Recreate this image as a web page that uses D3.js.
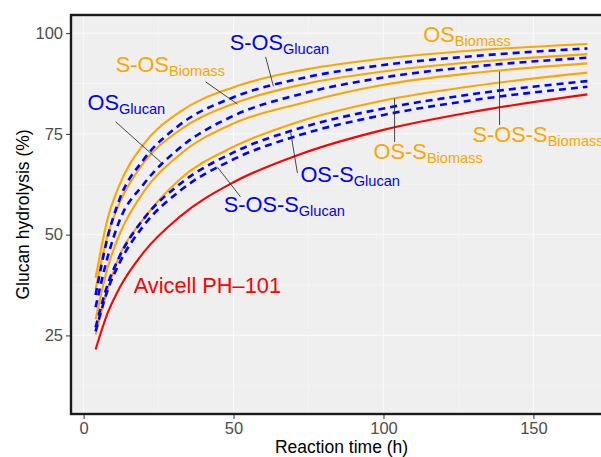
<!DOCTYPE html>
<html>
<head>
<meta charset="utf-8">
<script src="https://cdn.jsdelivr.net/npm/d3@7"></script>
<style>
  body { margin: 0; background: #fff; }
  svg text { font-family: "Liberation Sans", Arial, sans-serif; }
</style>
</head>
<body>
<svg id="chart" width="601" height="457"></svg>
<script>
const times = [4, 8, 12, 20, 32, 50, 72, 100, 130, 168];

// glucan hydrolysis (%) for each curve
const osBiomass   = [39.3, 53.9, 62.4, 72.4, 80.4, 86.6, 90.7, 93.7, 95.7, 97.3];
const sosGlucan   = [35.0, 49.3, 58.8, 68.6, 77.2, 84.1, 88.7, 92.1, 94.3, 96.2];
const sosBiomass  = [36.4, 49.8, 57.9, 67.8, 75.9, 82.5, 87.1, 90.5, 92.8, 94.8];
const osGlucan    = [32.0, 44.4, 53.5, 62.5, 71.5, 79.5, 84.8, 89.0, 91.7, 93.9];
const sossBiomass = [29.0, 41.8, 50.1, 60.6, 69.8, 77.6, 82.5, 87.2, 90.1, 92.5];
const ossBiomass  = [25.2, 36.3, 44.8, 53.9, 63.7, 71.8, 78.1, 83.3, 86.9, 90.2];
const ossGlucan   = [27.0, 37.6, 44.6, 53.9, 62.5, 70.4, 76.4, 81.3, 84.9, 88.1];
const sossGlucan  = [26.0, 36.2, 43.0, 52.2, 60.8, 68.7, 74.7, 79.7, 83.4, 86.7];
const avicell     = [21.5, 30.5, 36.8, 45.6, 54.4, 63.0, 69.9, 76.0, 80.5, 84.8];

const xTicks = [0, 50, 100, 150];
const yTicks = [25, 50, 75, 100];

// label text: [main, subscript, x(h), y(%)]
const labelMain = ["OS", "S-OS", "OS", "S-OS", "OS-S", "S-OS-S", "OS-S", "S-OS-S", "Avicell PH\u2013101"];
const labelSub  = ["Biomass", "Biomass", "Glucan", "Glucan", "Biomass", "Biomass", "Glucan", "Glucan", ""];
const labelX    = [113.3, 10.7, 1.3, 48.7, 96.7, 129.7, 72.3, 46.7, 16.7];
const labelY    = [97.8, 90.3, 80.9, 95.8, 68.8, 73.0, 63.1, 55.7, 35.6];
const labelKind = ["b", "b", "g", "g", "b", "b", "g", "g", "a"];

// leader lines: from (x1,y1) to (x2,y2) in data units
const leadX1 = [40.7, 10.7, 60.7, 52.3, 71.3, 103.7, 138.7];
const leadY1 = [87.9, 78.0, 94.1, 59.4, 65.3, 73.0, 77.2];
const leadX2 = [51.3, 26.0, 63.3, 44.7, 69.0, 103.7, 138.7];
const leadY2 = [82.4, 67.8, 86.8, 66.7, 75.6, 83.8, 90.5];

const colors = { b: "#FFA500", g: "#0000FF", a: "#FF0000" };

const series = [
    { v: osBiomass, kind: "b" },
    { v: sosBiomass, kind: "b" },
    { v: sossBiomass, kind: "b" },
    { v: ossBiomass, kind: "b" },
    { v: avicell, kind: "a" },
    { v: sosGlucan, kind: "g" },
    { v: osGlucan, kind: "g" },
    { v: ossGlucan, kind: "g" },
    { v: sossGlucan, kind: "g" }
];

const svg = d3.select("#chart");
const panel = { left: 71, top: 15, right: 612, bottom: 414 };

const x = d3.scaleLinear().domain([-4.2, 176.2]).range([panel.left, panel.right]);
const y = d3.scaleLinear().domain([5.5, 104.5]).range([panel.bottom, panel.top]);

svg.append("rect")
    .attr("x", panel.left).attr("y", panel.top)
    .attr("width", panel.right - panel.left).attr("height", panel.bottom - panel.top)
    .attr("fill", "#EFEFEF");

// grid, minor then major (very faint in the original)
const grid = svg.append("g");
[25, 75, 125, 175].forEach(t => {
    grid.append("line").attr("x1", x(t)).attr("x2", x(t))
        .attr("y1", panel.top).attr("y2", panel.bottom)
        .attr("stroke", "#F6F6F6").attr("stroke-width", 0.6);
});
[12.5, 37.5, 62.5, 87.5].forEach(v => {
    grid.append("line").attr("y1", y(v)).attr("y2", y(v))
        .attr("x1", panel.left).attr("x2", panel.right)
        .attr("stroke", "#F6F6F6").attr("stroke-width", 0.6);
});
xTicks.forEach(t => {
    grid.append("line").attr("x1", x(t)).attr("x2", x(t))
        .attr("y1", panel.top).attr("y2", panel.bottom)
        .attr("stroke", "#F8F8F8").attr("stroke-width", 1.1);
});
yTicks.forEach(v => {
    grid.append("line").attr("y1", y(v)).attr("y2", y(v))
        .attr("x1", panel.left).attr("x2", panel.right)
        .attr("stroke", "#F8F8F8").attr("stroke-width", 1.1);
});

// curves
const line = d3.line()
    .x((d, i) => x(times[i]))
    .y(d => y(d))
    .curve(d3.curveMonotoneX);

svg.append("g").selectAll("path")
    .data(series)
    .enter()
    .append("path")
    .attr("d", d => line(d.v))
    .attr("fill", "none")
    .attr("stroke", d => colors[d.kind])
    .attr("stroke-width", d => d.kind == "g" ? 2.6 : 2.1)
    .attr("stroke-dasharray", d => d.kind == "g" ? "7,5" : null);

// leader lines
svg.append("g").selectAll("line")
    .data(leadX1)
    .enter()
    .append("line")
    .attr("x1", (d, i) => x(leadX1[i]))
    .attr("y1", (d, i) => y(leadY1[i]))
    .attr("x2", (d, i) => x(leadX2[i]))
    .attr("y2", (d, i) => y(leadY2[i]))
    .attr("stroke", "#333")
    .attr("stroke-width", 0.9);

// labels with subscripts
const labels = svg.append("g").selectAll("text")
    .data(labelMain)
    .enter()
    .append("text")
    .attr("x", (d, i) => x(labelX[i]))
    .attr("y", (d, i) => y(labelY[i]))
    .attr("fill", (d, i) => colors[labelKind[i]])
    .attr("font-size", "21.8px");
labels.append("tspan").text(d => d);
labels.append("tspan")
    .attr("dy", 4)
    .attr("font-size", "14.6px")
    .text((d, i) => labelSub[i]);

// panel border (right side falls outside the picture)
svg.append("rect")
    .attr("x", panel.left).attr("y", panel.top)
    .attr("width", panel.right - panel.left).attr("height", panel.bottom - panel.top)
    .attr("fill", "none")
    .attr("stroke", "#1a1a1a")
    .attr("stroke-width", 2.4);

// axes
const xAxis = d3.axisBottom(x).tickValues(xTicks).tickSize(4).tickPadding(3);
const xAxisGroup = svg.append("g")
    .attr("transform", `translate(0, ${panel.bottom + 1})`)
    .call(xAxis);
xAxisGroup.select(".domain").remove();
xAxisGroup.selectAll("line").attr("stroke", "#333");
xAxisGroup.selectAll("text")
    .attr("fill", "#4D4D4D")
    .attr("font-size", "16.5px")
    .attr("font-family", "Liberation Sans, Arial, sans-serif");

const yAxis = d3.axisLeft(y).tickValues(yTicks).tickSize(4).tickPadding(3);
const yAxisGroup = svg.append("g")
    .attr("transform", `translate(${panel.left - 1}, 0)`)
    .call(yAxis);
yAxisGroup.select(".domain").remove();
yAxisGroup.selectAll("line").attr("stroke", "#333");
yAxisGroup.selectAll("text")
    .attr("fill", "#4D4D4D")
    .attr("font-size", "16.5px")
    .attr("font-family", "Liberation Sans, Arial, sans-serif");

svg.append("text")
    .attr("x", (panel.left + panel.right) / 2)
    .attr("y", 453)
    .attr("text-anchor", "middle")
    .attr("font-size", "17.5px")
    .attr("fill", "#000")
    .text("Reaction time (h)");

svg.append("text")
    .attr("transform", `translate(29, ${(panel.top + panel.bottom) / 2}) rotate(-90)`)
    .attr("text-anchor", "middle")
    .attr("font-size", "17.5px")
    .attr("fill", "#000")
    .text("Glucan hydrolysis (%)");
</script>
</body>
</html>
